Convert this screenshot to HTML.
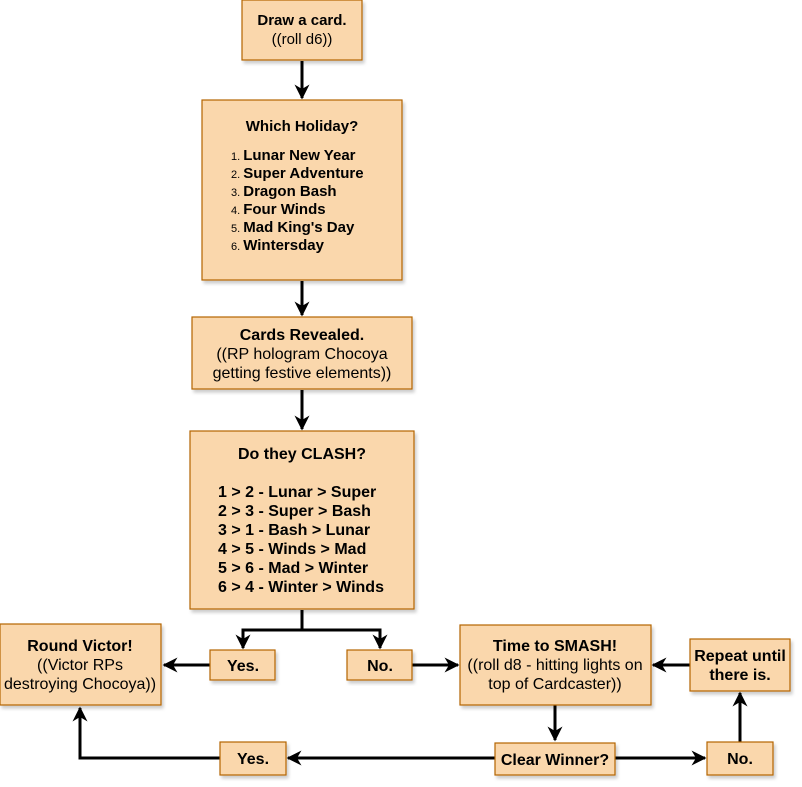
<!DOCTYPE html>
<html><head><meta charset="utf-8"><style>
html,body{margin:0;padding:0;background:#fff;}
svg{display:block;font-family:"Liberation Sans",Arial,sans-serif;}
.b{fill:#fad7ac;stroke:#b46504;stroke-width:1.2;filter:url(#sh);}
.l{fill:none;stroke:#000;stroke-width:3;}
.t{font-size:16px;fill:#000;text-anchor:middle;}
.h{font-size:15px;}
.bd{font-weight:bold;}
.n{font-size:11px;}
</style></head><body>
<svg width="802" height="787" viewBox="0 0 802 787" xmlns="http://www.w3.org/2000/svg">
<defs>
<filter id="sh" x="-10%" y="-10%" width="130%" height="130%"><feDropShadow dx="2" dy="3" stdDeviation="1.5" flood-color="#000" flood-opacity="0.2"/></filter>
<marker id="a" viewBox="0 0 10 10" refX="9" refY="5" markerWidth="5" markerHeight="5" orient="auto" markerUnits="strokeWidth"><path d="M0,0 L10,5 L0,10 L3,5 z" fill="#000"/></marker>
</defs>
<path class="l" d="M302,61 V98" marker-end="url(#a)"/>
<path class="l" d="M302,281 V315" marker-end="url(#a)"/>
<path class="l" d="M302,390 V429" marker-end="url(#a)"/>
<path class="l" d="M302,610 V630 H243 V648" marker-end="url(#a)"/>
<path class="l" d="M302,630 H380 V648" marker-end="url(#a)"/>
<path class="l" d="M210,665 H164" marker-end="url(#a)"/>
<path class="l" d="M412,665 H458" marker-end="url(#a)"/>
<path class="l" d="M690,665 H653" marker-end="url(#a)"/>
<path class="l" d="M555,705 V740" marker-end="url(#a)"/>
<path class="l" d="M495,758 H288" marker-end="url(#a)"/>
<path class="l" d="M615,758 H705" marker-end="url(#a)"/>
<path class="l" d="M740,742 V693" marker-end="url(#a)"/>
<path class="l" d="M220,758 H80 V708" marker-end="url(#a)"/>

<rect class="b" x="242" y="0" width="120" height="60"/>
<text class="t h bd" x="302" y="25">Draw a card.</text>
<text class="t h" x="302" y="44">((roll d6))</text>

<rect class="b" x="202" y="100" width="200" height="180"/>
<text class="t h bd" x="302" y="131">Which Holiday?</text>
<g class="t h bd" style="text-anchor:start">
<text x="231" y="160"><tspan class="n" font-weight="normal">1. </tspan>Lunar New Year</text>
<text x="231" y="178"><tspan class="n" font-weight="normal">2. </tspan>Super Adventure</text>
<text x="231" y="196"><tspan class="n" font-weight="normal">3. </tspan>Dragon Bash</text>
<text x="231" y="214"><tspan class="n" font-weight="normal">4. </tspan>Four Winds</text>
<text x="231" y="232"><tspan class="n" font-weight="normal">5. </tspan>Mad King's Day</text>
<text x="231" y="250"><tspan class="n" font-weight="normal">6. </tspan>Wintersday</text>
</g>

<rect class="b" x="192" y="317" width="220" height="72"/>
<text class="t bd" x="302" y="340">Cards Revealed.</text>
<text class="t" x="302" y="359">((RP hologram Chocoya</text>
<text class="t" x="302" y="378">getting festive elements))</text>

<rect class="b" x="190" y="431" width="224" height="178"/>
<text class="t bd" x="302" y="459">Do they CLASH?</text>
<g class="t bd" style="text-anchor:start">
<text x="218" y="497">1 &gt; 2 - Lunar &gt; Super</text>
<text x="218" y="516">2 &gt; 3 - Super &gt; Bash</text>
<text x="218" y="535">3 &gt; 1 - Bash &gt; Lunar</text>
<text x="218" y="554">4 &gt; 5 - Winds &gt; Mad</text>
<text x="218" y="573">5 &gt; 6 - Mad &gt; Winter</text>
<text x="218" y="592">6 &gt; 4 - Winter &gt; Winds</text>
</g>

<rect class="b" x="0" y="624" width="161" height="81"/>
<text class="t bd" x="80" y="651">Round Victor!</text>
<text class="t" x="80" y="670">((Victor RPs</text>
<text class="t" x="80" y="689">destroying Chocoya))</text>

<rect class="b" x="210" y="650" width="65" height="30"/>
<text class="t bd" x="243" y="671">Yes.</text>
<rect class="b" x="347" y="650" width="65" height="30"/>
<text class="t bd" x="380" y="671">No.</text>

<rect class="b" x="460" y="625" width="191" height="80"/>
<text class="t bd" x="555" y="651">Time to SMASH!</text>
<text class="t" x="555" y="670">((roll d8 - hitting lights on</text>
<text class="t" x="555" y="689">top of Cardcaster))</text>

<rect class="b" x="690" y="639" width="100" height="52"/>
<text class="t bd" x="740" y="661">Repeat until</text>
<text class="t bd" x="740" y="680">there is.</text>

<rect class="b" x="495" y="743" width="120" height="32"/>
<text class="t bd" x="555" y="765">Clear Winner?</text>
<rect class="b" x="220" y="742" width="66" height="33"/>
<text class="t bd" x="253" y="764">Yes.</text>
<rect class="b" x="707" y="742" width="66" height="33"/>
<text class="t bd" x="740" y="764">No.</text>
</svg>
</body></html>
